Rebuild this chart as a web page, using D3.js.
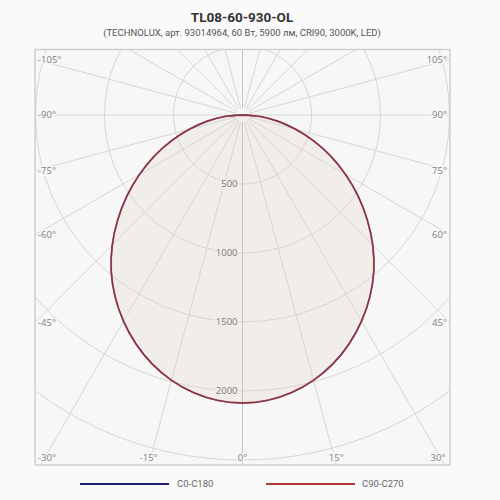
<!DOCTYPE html>
<html><head><meta charset="utf-8">
<script src="https://cdn.jsdelivr.net/npm/d3@7"></script>
<style>html,body{margin:0;padding:0;background:#fafafa;}svg{display:block;}</style>
</head><body>
<svg id="c" width="500" height="500"></svg>
<script>
// ---- data ----
const title = "TL08-60-930-OL";
const subtitle = "(TECHNOLUX, арт. 93014964, 60 Вт, 5900 лм, CRI90, 3000K, LED)";
const angles = [-90,-85,-80,-75,-70,-65,-60,-55,-50,-45,-40,-35,-30,-25,-20,-15,-10,-5,0,5,10,15,20,25,30,35,40,45,50,55,60,65,70,75,80,85,90];
const c0c180 = [0,135,262,397,550,706,862,1022,1180,1335,1480,1609,1725,1829,1918,1990,2043,2076,2087,2076,2043,1990,1918,1829,1725,1609,1480,1335,1180,1022,862,706,550,397,262,135,0];
const c90c270 = [0,135,262,397,550,706,862,1022,1180,1335,1480,1609,1725,1829,1918,1990,2043,2076,2087,2076,2043,1990,1918,1829,1725,1609,1480,1335,1180,1022,862,706,550,397,262,135,0];
const radialTicks = [500,1000,1500,2000];
const gridCircles = [500,1000,1500,2000,2500,3000];
const gridAngles = d3.range(0,360,15);
const angleLabels = [-105,-90,-75,-60,-45,-30,-15,0,15,30,45,60,75,90,105];
const seriesNames = ["C0-C180","C90-C270"];
const seriesColors = ["#1c1f6e","#b3383a"];

// ---- layout ----
const svg = d3.select("#c");
const box = {x0:35, y0:49.5, x1:450, y1:465};
const cx = 242.5, cy = 115;
const r = d3.scaleLinear().domain([0,2000]).range([0,276]);
const rad = d => d*Math.PI/180;
const toA = d => Math.PI - rad(d); // lineRadial angle

svg.append("defs").append("clipPath").attr("id","clip")
  .append("rect").attr("x",box.x0).attr("y",box.y0).attr("width",box.x1-box.x0).attr("height",box.y1-box.y0);

svg.append("rect").attr("x",box.x0).attr("y",box.y0).attr("width",box.x1-box.x0).attr("height",box.y1-box.y0)
  .attr("fill","#f7f7f7");

const g = svg.append("g").attr("clip-path","url(#clip)");
const pg = g.append("g").attr("transform",`translate(${cx},${cy})`);

const pts = s => angles.map((a,i)=>[toA(a), r(s[i])]);

// fill
pg.append("path").datum(pts(c90c270))
  .attr("d", d3.areaRadial().angle(d=>d[0]).innerRadius(0).outerRadius(d=>d[1]).curve(d3.curveCatmullRom))
  .attr("fill","#f1ede8");

// grid circles
pg.selectAll("circle.grid").data(gridCircles).join("circle")
  .attr("r", d=>r(d)).attr("fill","none").attr("stroke","#d6d6d6").attr("stroke-width",1);

// radial lines
pg.selectAll("line.spoke").data(gridAngles).join("line")
  .attr("x1", d=>7*Math.sin(rad(d))).attr("y1", d=>7*Math.cos(rad(d)))
  .attr("x2", d=>600*Math.sin(rad(d))).attr("y2", d=>600*Math.cos(rad(d)))
  .attr("stroke", d=> (d===0||d===180) ? "#c4c4c4" : "#d6d6d6").attr("stroke-width",1);

// curves
const lr = d3.lineRadial().angle(d=>d[0]).radius(d=>d[1]).curve(d3.curveCatmullRom);
pg.append("path").datum(pts(c0c180)).attr("d",lr).attr("fill","none")
  .attr("stroke",seriesColors[0]).attr("stroke-width",1.4);
pg.append("path").datum(pts(c90c270)).attr("d",lr).attr("fill","none")
  .attr("stroke",seriesColors[1]).attr("stroke-width",1.9).attr("stroke-opacity",0.7);

// border
svg.append("rect").attr("x",box.x0).attr("y",box.y0).attr("width",box.x1-box.x0).attr("height",box.y1-box.y0)
  .attr("fill","none").attr("stroke","#cfcfcf").attr("stroke-width",1.5);

// radial tick labels
svg.selectAll("text.rt").data(radialTicks).join("text")
  .attr("x", cx-5).attr("y", d=>cy+r(d)).attr("dy","0.35em")
  .attr("text-anchor","end").attr("font-family","Open Sans, sans-serif").attr("font-size",9.5)
  .attr("fill","#777").attr("stroke","#f1ede8").attr("stroke-width",3).attr("paint-order","stroke")
  .text(d=>d);

// angle labels at box edges
angleLabels.forEach(a=>{
  const s = Math.sin(rad(a)), c = Math.cos(rad(a));
  let tSide = s!==0 ? (s<0 ? (box.x0-cx)/s : (box.x1-cx)/s) : Infinity;
  let tBot = c>0 ? (box.y1-cy)/c : Infinity;
  const t = Math.min(tSide,tBot);
  const px = cx + t*s, py = cy + t*c;
  const tx = svg.append("text").attr("font-family","Open Sans, sans-serif").attr("font-size",9.5)
    .attr("fill","#808080").attr("stroke","#f7f7f7").attr("stroke-width",3).attr("paint-order","stroke")
    .text(a+"°");
  if (tBot <= tSide) {
    tx.attr("x", Math.max(box.x0+12, Math.min(box.x1-12, px))).attr("y", box.y1-4).attr("text-anchor","middle");
  } else if (s<0) {
    tx.attr("x", box.x0+3).attr("y", Math.max(box.y0+8, py)).attr("dy","0.35em").attr("text-anchor","start");
  } else {
    tx.attr("x", box.x1-3).attr("y", Math.max(box.y0+8, py)).attr("dy","0.35em").attr("text-anchor","end");
  }
});

// titles
svg.append("text").attr("x",242).attr("y",22).attr("text-anchor","middle")
  .attr("font-family","Roboto, sans-serif").attr("font-weight","bold").attr("font-size",13.5)
  .attr("fill","#333").text(title);
svg.append("text").attr("x",242).attr("y",36).attr("text-anchor","middle")
  .attr("font-family","Roboto, sans-serif").attr("font-size",9.5)
  .attr("fill","#555").text(subtitle);

// legend
const leg = [{x1:80,x2:169,tx:177},{x1:266,x2:355,tx:362}];
leg.forEach((l,i)=>{
  svg.append("line").attr("x1",l.x1).attr("x2",l.x2).attr("y1",484).attr("y2",484)
    .attr("stroke",seriesColors[i]).attr("stroke-width",1.8);
  svg.append("text").attr("x",l.tx).attr("y",484).attr("dy","0.35em")
    .attr("font-family","Roboto, sans-serif").attr("font-size",9.5).attr("fill","#666").text(seriesNames[i]);
});
</script>
</body></html>
